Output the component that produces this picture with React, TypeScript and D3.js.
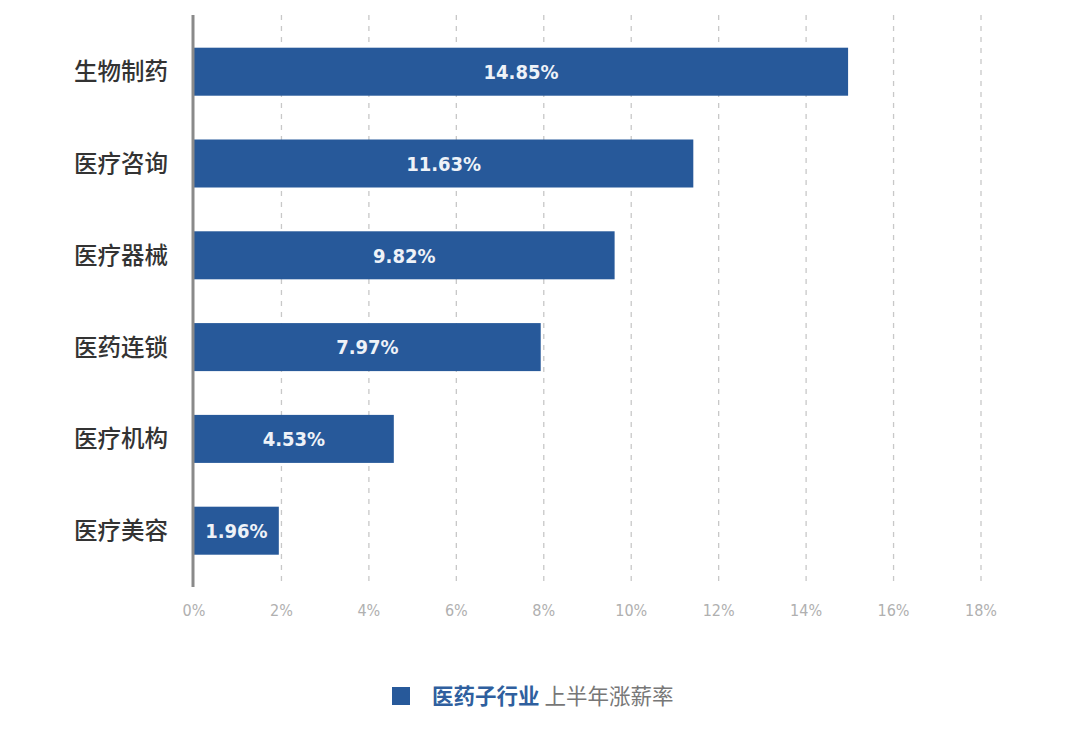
import React from "react";
import * as d3 from "d3";

const categories = ["生物制药", "医疗咨询", "医疗器械", "医药连锁", "医疗机构", "医疗美容"];
const barValues = [14.96, 11.42, 9.62, 7.93, 4.57, 1.94];
const valueLabels = ["14.85%", "11.63%", "9.82%", "7.97%", "4.53%", "1.96%"];
const xTicks = [0, 2, 4, 6, 8, 10, 12, 14, 16, 18];
const legendStrong = "医药子行业";
const legendRest = "上半年涨薪率";

const W = 1080;
const H = 734;
const BAR = "#27599a";
const CJK = "'Noto Sans CJK SC', 'Noto Sans', sans-serif";
const NUM = "'DejaVu Sans Condensed', 'DejaVu Sans', sans-serif";

export default function App() {
  const x = d3.scaleLinear().domain([0, 18]).range([194, 981]);
  const y = d3
    .scaleBand<string>()
    .domain(categories)
    .range([25.8, 576.6])
    .paddingInner(0.477)
    .paddingOuter(0.2385);
  const top = 15;
  const bottom = 587;

  return (
    <svg
      width={W}
      height={H}
      style={{ position: "absolute", left: 0, top: 0, background: "#fff" }}
    >
      {xTicks.slice(1).map((t) => (
        <line
          key={"g" + t}
          x1={x(t)}
          x2={x(t)}
          y1={top}
          y2={bottom}
          stroke="#c8c8c8"
          strokeWidth={1.3}
          strokeDasharray="5,6"
        />
      ))}
      {xTicks.map((t) => (
        <text
          key={"t" + t}
          x={x(t)}
          y={616}
          textAnchor="middle"
          fill="#b0b0b0"
          fontSize={16}
          fontFamily={NUM}
        >
          {t + "%"}
        </text>
      ))}
      {categories.map((c, i) => {
        const yy = y(c) as number;
        const bw = y.bandwidth();
        return (
          <g key={c}>
            <rect x={x(0)} y={yy} width={x(barValues[i]) - x(0)} height={bw} fill={BAR} />
            <text
              x={(x(0) + x(barValues[i])) / 2}
              y={yy + bw / 2}
              dy="0.36em"
              textAnchor="middle"
              fill="#eef2f8"
              fontSize={20}
              fontWeight="bold"
              fontFamily={NUM}
            >
              {valueLabels[i]}
            </text>
            <text
              x={168}
              y={yy + bw / 2}
              dy="0.36em"
              textAnchor="end"
              fill="#333"
              fontSize={23.5}
              fontWeight={500}
              fontFamily={CJK}
            >
              {c}
            </text>
          </g>
        );
      })}
      <line x1={193} x2={193} y1={top} y2={bottom} stroke="#8a8a8a" strokeWidth={3} />
      <rect x={392} y={687} width={18} height={18} fill={BAR} />
      <text x={432} y={696} dy="0.36em" fontSize={21.5} fontFamily={CJK}>
        <tspan fill="#2f5f9e" fontWeight="bold">{legendStrong}</tspan>
        <tspan fill="#777" dx={5}>{legendRest}</tspan>
      </text>
    </svg>
  );
}
